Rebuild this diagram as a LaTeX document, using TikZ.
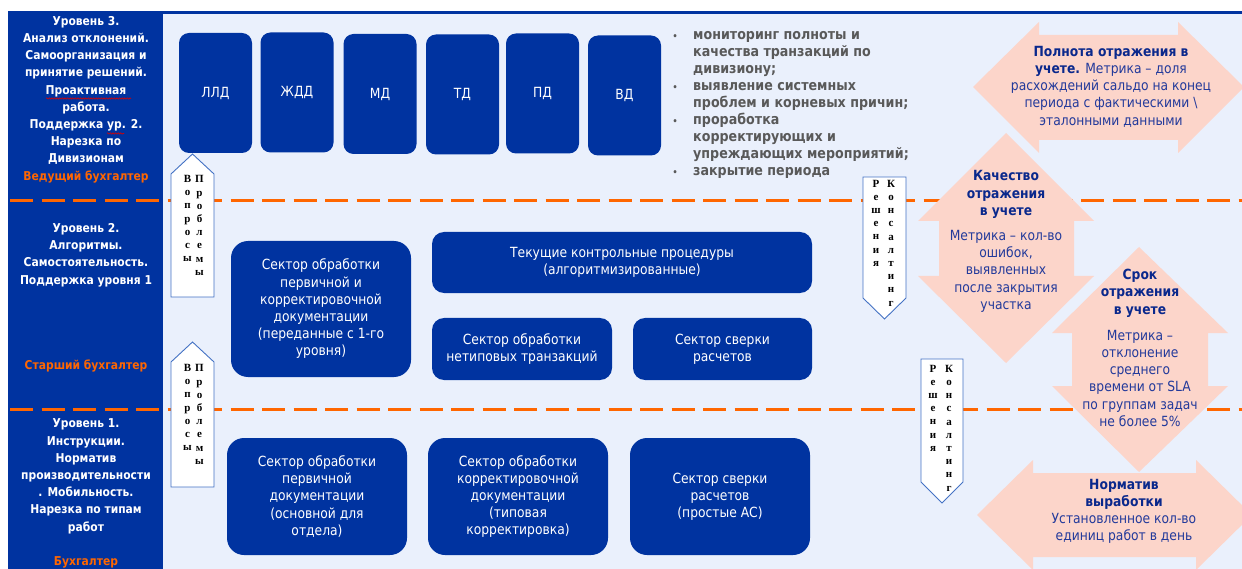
\documentclass[tikz,border=0pt]{standalone}
\usepackage{fontspec}
\setmainfont{DejaVu Sans}[FakeStretch=0.88]
\newfontfamily\lettfont{Liberation Serif}
\usetikzlibrary{decorations.pathmorphing}
\definecolor{dkblue}{RGB}{0,51,160}
\definecolor{bgblue}{RGB}{234,240,252}
\definecolor{pinkA}{RGB}{252,213,202}
\definecolor{orangeD}{RGB}{255,102,0}
\definecolor{greyT}{RGB}{89,89,89}
\definecolor{txtblue}{RGB}{35,58,155}
\definecolor{hdblue}{RGB}{10,40,140}
\definecolor{edgeblue}{RGB}{68,114,196}
\newcommand\mainfs{\fontsize{14bp}{17.2bp}\selectfont}
\newcommand\bulfs{\fontsize{14.4bp}{17.1bp}\selectfont\bfseries}
\newcommand\leftfs{\fontsize{12.2bp}{17.2bp}\selectfont\bfseries}
\newcommand\lettfs{\lettfont\fontsize{11bp}{13.2bp}\selectfont\bfseries}
\tikzset{
  orgdash/.style={orangeD, line width=3bp, dash pattern=on 23bp off 8.5bp},
  divbox/.style={fill=dkblue, rounded corners=10bp, minimum width=73bp, minimum height=120bp, text=white, font=\mainfs, inner sep=0},
  secbox/.style={fill=dkblue, rounded corners=17bp, minimum width=180bp, text=white, font=\mainfs, align=center, inner sep=0},
  smbox/.style={fill=dkblue, rounded corners=12bp, minimum height=62bp, text=white, font=\mainfs, align=center, inner sep=0},
  lefttxt/.style={text=white, font=\leftfs, align=center, inner sep=0},
  pinktxt/.style={text=txtblue, font=\mainfs, align=center, inner sep=0},
  pinkarrow/.style={fill=pinkA},
  housearrow/.style={draw=edgeblue, fill=white, line width=0.9bp},
  lett/.style={font=\lettfs, align=center, inner sep=0, text=black},
  spell/.style={red!85!black, line width=0.6bp, decorate, decoration={snake, amplitude=0.7bp, segment length=2.6bp}}
}
\begin{document}
\begin{tikzpicture}[x=1bp,y=-1bp]
\useasboundingbox (0,0) rectangle (1242,569);
\clip (0,0) rectangle (1242,569);
\fill[white] (0,0) rectangle (1242,569);
\fill[bgblue] (163,12) rectangle (1242,569);
\fill[dkblue] (8,12) rectangle (163,569);
\draw[dkblue, line width=2.5bp] (8,12.5) -- (1242,12.5);
% level separators
\draw[orgdash] (10,201) -- (1242,201);
\draw[orgdash] (10,409) -- (1242,409);

% pink metric arrows
\fill[pinkarrow] (973,87) -- (1039,22) -- (1039,35) -- (1178,35) -- (1178,22) -- (1244,87)
  -- (1178,153) -- (1178,140) -- (1039,140) -- (1039,153) -- cycle;
\fill[pinkarrow] (1006,133) -- (1094,221) -- (1074,221) -- (1074,276) -- (1094,276) -- (1006,363)
  -- (918,276) -- (939,276) -- (939,221) -- (918,221) -- cycle;
\fill[pinkarrow] (1139,247) -- (1228,333) -- (1208,333) -- (1208,386) -- (1228,386) -- (1139,472)
  -- (1052,386) -- (1072,386) -- (1072,333) -- (1052,333) -- cycle;
\fill[pinkarrow] (977,515) -- (1033,460) -- (1033,473) -- (1196,473) -- (1196,460) -- (1252,515)
  -- (1196,570) -- (1196,557) -- (1033,557) -- (1033,570) -- cycle;

% left column texts
\node[lefttxt] (lev3) at (86,99.5) {Уровень 3.\\Анализ отклонений.\\Самоорганизация и\\принятие решений.\\Проактивная\\работа.\\Поддержка ур. 2.\\Нарезка по\\Дивизионам\\\textcolor{orangeD}{Ведущий бухгалтер}};
\node[lefttxt] (lev2) at (86,255) {Уровень 2.\\Алгоритмы.\\Самостоятельность.\\Поддержка уровня 1};
\node[lefttxt, text=orangeD] (lev2r) at (86,366) {Старший бухгалтер};
\node[lefttxt] (lev1) at (86,493.5) {Уровень 1.\\Инструкции.\\Норматив\\производительности\\. Мобильность.\\Нарезка по типам\\работ\\[17.2bp]\textcolor{orangeD}{Бухгалтер}};
\draw[spell] (46,98.5) -- (131,98.5);
\draw[spell] (107,133.5) -- (124,133.5);

% level 3 division boxes
\node[divbox] (llz) at (215.5,93) {ЛЛД};
\node[divbox] (zhd) at (297,92.5) {ЖДД};
\node[divbox] (md) at (380,94) {МД};
\node[divbox] (td) at (462.5,94.5) {ТД};
\node[divbox] (pd) at (542.5,93.5) {ПД};
\node[divbox] (vd) at (624.5,95.5) {ВД};

% bullet list
\node[anchor=west, text=greyT, font=\bulfs, align=left, inner sep=0] (bul) at (672.5,105)
{\makebox[20.5bp][l]{\fontsize{9bp}{9bp}\selectfont•}мониторинг полноты и\\
\hspace*{20.5bp}качества транзакций по\\
\hspace*{20.5bp}дивизиону;\\
\makebox[20.5bp][l]{\fontsize{9bp}{9bp}\selectfont•}выявление системных\\
\hspace*{20.5bp}проблем и корневых причин;\\
\makebox[20.5bp][l]{\fontsize{9bp}{9bp}\selectfont•}проработка\\
\hspace*{20.5bp}корректирующих и\\
\hspace*{20.5bp}упреждающих мероприятий;\\
\makebox[20.5bp][l]{\fontsize{9bp}{9bp}\selectfont•}закрытие периода};

% level 2 boxes
\node[secbox, minimum height=136bp] (s2a) at (321,309) {Сектор обработки\\первичной и\\корректировочной\\документации\\(переданные с 1-го\\уровня)};
\node[smbox, minimum width=380bp, minimum height=61bp] (s2b) at (622,262.5) {Текущие контрольные процедуры\\(алгоритмизированные)};
\node[smbox, minimum width=180bp] (s2c) at (522,349) {Сектор обработки\\нетиповых транзакций};
\node[smbox, minimum width=179bp] (s2d) at (722.5,349) {Сектор сверки\\расчетов};

% level 1 boxes
\node[secbox, minimum height=117bp] (s1a) at (317,496.5) {Сектор обработки\\первичной\\документации\\(основной для\\отдела)};
\node[secbox, minimum height=117bp] (s1b) at (518,496.5) {Сектор обработки\\корректировочной\\документации\\(типовая\\корректировка)};
\node[secbox, minimum height=117bp] (s1c) at (720,496.5) {Сектор сверки\\расчетов\\(простые АС)};

% upward arrows "Вопросы / Проблемы"
\draw[housearrow] (171,297) -- (171,174) -- (192.5,154) -- (214,174) -- (214,297) -- cycle;
\node[lett] (q1a) at (187.5,218.5) {В\\о\\п\\р\\о\\с\\ы};
\node[lett] (q1b) at (199.5,225.5) {П\\р\\о\\б\\л\\е\\м\\ы};
\draw[housearrow] (171,487) -- (171,362) -- (192.5,342) -- (214,362) -- (214,487) -- cycle;
\node[lett] (q2a) at (187.5,407.5) {В\\о\\п\\р\\о\\с\\ы};
\node[lett] (q2b) at (199.5,414.5) {П\\р\\о\\б\\л\\е\\м\\ы};

% downward arrows "Решения / Консалтинг"
\draw[housearrow] (863,177) -- (906,177) -- (906,298) -- (884.5,319) -- (863,298) -- cycle;
\node[lett] (r1a) at (876,223) {Р\\е\\ш\\е\\н\\и\\я};
\node[lett] (r1b) at (891,243) {К\\о\\н\\с\\а\\л\\т\\и\\н\\г};
\draw[housearrow] (921,359) -- (963,359) -- (963,482) -- (942,503) -- (921,482) -- cycle;
\node[lett] (r2a) at (933,408) {Р\\е\\ш\\е\\н\\и\\я};
\node[lett] (r2b) at (949,428) {К\\о\\н\\с\\а\\л\\т\\и\\н\\г};

% metric texts
\node[pinktxt] (m1) at (1111,86.5) {\textcolor{hdblue}{\bfseries Полнота отражения в}\\\textcolor{hdblue}{\bfseries учете.} Метрика – доля\\расхождений сальдо на конец\\периода с фактическими \textbackslash\\эталонными данными};
\node[pinktxt] (m2) at (1006,241.5) {\textcolor{hdblue}{\bfseries Качество}\\\textcolor{hdblue}{\bfseries отражения}\\\textcolor{hdblue}{\bfseries в учете}\\[8bp]Метрика – кол-во\\ошибок,\\выявленных\\после закрытия\\участка};
\node[pinktxt] (m3) at (1140,348) {\textcolor{hdblue}{\bfseries Срок}\\\textcolor{hdblue}{\bfseries отражения}\\\textcolor{hdblue}{\bfseries в учете}\\[9bp]Метрика –\\отклонение\\среднего\\времени от SLA\\по группам задач\\не более 5\%};
\node[pinktxt] (m4) at (1124,511.5) {\textcolor{hdblue}{\bfseries Норматив}\\\textcolor{hdblue}{\bfseries выработки}\\Установленное кол-во\\единиц работ в день};
\end{tikzpicture}
\end{document}
